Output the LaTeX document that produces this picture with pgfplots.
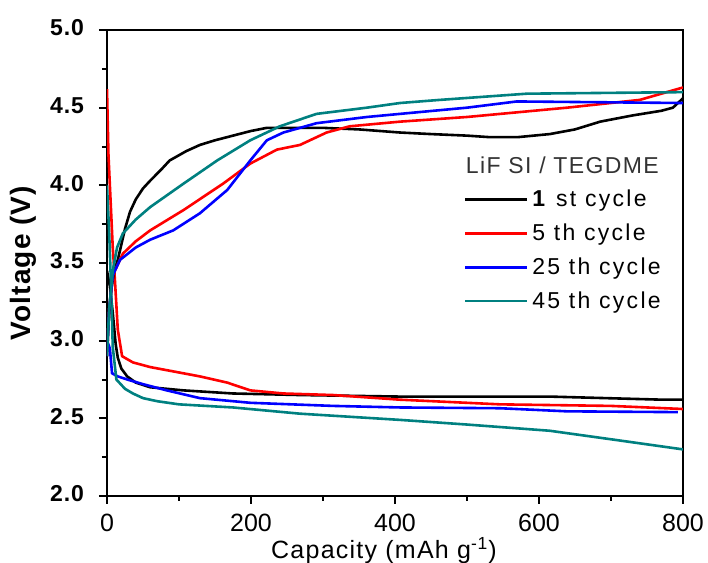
\documentclass[border=0pt]{standalone}
\usepackage{pgfplots}
\pgfplotsset{compat=1.18}
\usepackage{fontspec}
\setmainfont{Liberation Sans}
\newfontfamily\xlabfont{Liberation Sans}[LetterSpace=5]
\newfontfamily\ylabfont{Liberation Sans}[LetterSpace=4]
\newfontfamily\legfont{Liberation Sans}[LetterSpace=10]
\newfontfamily\titfont{Liberation Sans}[LetterSpace=6]
\definecolor{teal45}{RGB}{0,128,128}
\begin{document}
\begin{tikzpicture}
\begin{axis}[
  at={(0,0)}, anchor=south west,
  width=288pt, height=233pt, scale only axis,
  xmin=0, xmax=800, ymin=2.0, ymax=5.0,
  xtick={0,200,400,600,800}, minor xtick={100,300,500,700},
  ytick={2.0,2.5,3.0,3.5,4.0,4.5,5.0}, minor ytick={2.25,2.75,3.25,3.75,4.25,4.75},
  yticklabel={\pgfmathprintnumber[fixed, fixed zerofill, precision=1, assume math mode=true]{\tick}},
  xticklabel={\pgfmathprintnumber[assume math mode=true]{\tick}},
  xticklabel style={font=\fontsize{12.5}{14}\selectfont, anchor=base, yshift=-14pt},
  yticklabel style={font=\ylabfont\bfseries\fontsize{11.5}{13}\selectfont, xshift=-4pt, yshift=1pt},
  tick align=outside, xtick pos=bottom, ytick pos=left,
  major tick length=4pt, minor tick length=2.5pt,
  tick style={line width=1pt, black},
  axis line style={line width=1.2pt},
  xlabel={Capacity (mAh g\textsuperscript{-1})},
  every axis x label/.style={at={(axis description cs:0.5,0)}, anchor=base, yshift=-31pt, xshift=-5.5pt, font=\xlabfont\fontsize{12.5}{14}\selectfont},
  ylabel={Voltage (V)},
  every axis y label/.style={at={(axis description cs:-0.146,0.5)}, rotate=90, anchor=center, font=\ylabfont\bfseries\fontsize{14}{16}\selectfont},
  legend cell align=left,
  legend style={draw=none, fill=none, at={(axis cs:495,4.0)}, anchor=north west,
    font=\legfont\fontsize{11.5}{13}\selectfont, row sep=3.1pt, inner sep=0pt,
    /tikz/every even column/.append style={column sep=1pt}},
  legend image code/.code={\draw[#1, line width=1.3pt] (0pt,0pt) -- (31pt,0pt);},
  every axis plot/.append style={line width=1.3pt},
]
% discharge curves
\addplot[black, forget plot] coordinates {(0,3.45) (4,3.35) (8,3.18) (12,2.98) (15,2.89) (20,2.82) (28,2.77) (40,2.73) (60,2.70) (106,2.68) (175,2.66) (268,2.65) (407,2.64) (615,2.64) (772,2.62) (800,2.62)};
\addplot[blue, forget plot] coordinates {(0,3.0) (4,2.95) (7,2.79) (15,2.77) (28,2.75) (50,2.72) (83,2.68) (129,2.63) (199,2.60) (314,2.58) (407,2.57) (546,2.565) (639,2.545) (793,2.54)};
\addplot[teal45, forget plot] coordinates {(0,4.0) (3,3.7) (6,3.3) (8,2.96) (13,2.75) (25,2.69) (36,2.66) (50,2.63) (70,2.61) (100,2.59) (175,2.57) (268,2.53) (407,2.49) (500,2.46) (615,2.42) (708,2.36) (800,2.30)};
\addplot[red, forget plot] coordinates {(0,4.62) (2,4.2) (4,4.0) (8,3.6) (11,3.39) (15,3.07) (21,2.90) (36,2.86) (60,2.83) (83,2.81) (129,2.77) (167,2.73) (199,2.68) (245,2.66) (314,2.65) (407,2.62) (546,2.59) (700,2.58) (800,2.56)};
% charge curves
\addplot[black] coordinates {(0,2.95) (2,3.1) (5,3.3) (10,3.45) (15,3.52) (20,3.62) (25,3.72) (32,3.83) (40,3.91) (50,3.98) (60,4.03) (75,4.10) (87,4.16) (110,4.22) (129,4.26) (150,4.29) (175,4.32) (200,4.35) (222,4.37) (260,4.37) (300,4.37) (350,4.36) (407,4.34) (450,4.33) (500,4.32) (532,4.31) (570,4.31) (615,4.33) (650,4.36) (685,4.41) (730,4.45) (770,4.48) (786,4.50) (800,4.56)};
\addlegendentry{\textbf{1} st cycle}
\addplot[red] coordinates {(0,2.9) (3,3.2) (8,3.42) (22,3.56) (40,3.64) (60,3.71) (106,3.84) (161,4.01) (199,4.14) (236,4.23) (268,4.26) (305,4.34) (337,4.38) (407,4.41) (500,4.44) (639,4.50) (740,4.55) (800,4.63)};
\addlegendentry{5 th cycle}
\addplot[blue] coordinates {(0,2.9) (3,3.2) (8,3.42) (18,3.52) (40,3.6) (60,3.65) (92,3.71) (129,3.82) (167,3.97) (199,4.16) (222,4.29) (245,4.34) (291,4.40) (361,4.44) (407,4.46) (500,4.50) (569,4.54) (800,4.53)};
\addlegendentry{25 th cycle}
\addplot[teal45] coordinates {(0,2.9) (3,3.2) (8,3.45) (14,3.6) (22,3.69) (40,3.78) (60,3.86) (106,4.01) (153,4.16) (199,4.29) (240,4.38) (291,4.46) (361,4.50) (407,4.53) (462,4.55) (583,4.59) (800,4.60)};
\addlegendentry{45 th cycle}
\node[anchor=west, inner sep=0pt, text=black!80, font=\titfont\fontsize{11.5}{13}\selectfont] at (axis cs:498,4.13) {LiF SI / TEGDME};
\end{axis}
\pgfresetboundingbox
\path (-53.5pt,-33.5pt) rectangle (300.5pt,248pt);
\end{tikzpicture}
\end{document}
